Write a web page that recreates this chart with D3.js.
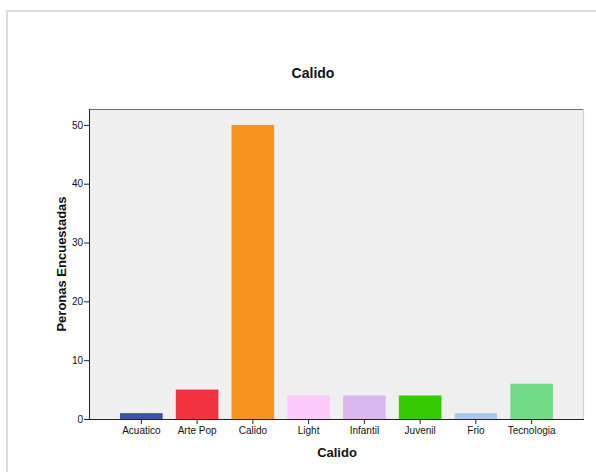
<!DOCTYPE html>
<html>
<head>
<meta charset="utf-8">
<script src="https://cdn.jsdelivr.net/npm/d3@7"></script>
<style>
  html, body { margin: 0; padding: 0; background: #fff; }
  svg { display: block; }
  text { font-family: "Liberation Sans", Arial, sans-serif; fill: #111; }
</style>
</head>
<body>
<svg id="chart" width="596" height="472"></svg>
<script>
// Survey counts per category
const categories = ["Acuatico", "Arte Pop", "Calido", "Light", "Infantil", "Juvenil", "Frio", "Tecnologia"];
const counts = [1, 5, 50, 4, 4, 4, 1, 6];
const barColors = ["#3a55a3", "#f0333f", "#f7941e", "#fdcbfb", "#dab8ef", "#33cc00", "#a9cbef", "#72dc86"];
const yTicks = [0, 10, 20, 30, 40, 50];
const chartTitle = "Calido";
const xTitle = "Calido";
const yTitle = "Peronas Encuestadas";

const svg = d3.select("#chart");

// outer panel frame
svg.append("path")
  .attr("d", "M7,472 V11 H596")
  .attr("fill", "none")
  .attr("stroke", "#dcdcdc")
  .attr("stroke-width", 2);

const plot = { left: 89, right: 584, top: 109, bottom: 419 };

const x = d3.scaleBand()
  .domain(categories)
  .range([plot.left, plot.right])
  .paddingInner(0.236)
  .paddingOuter(0.557);

const y = d3.scaleLinear()
  .domain([0, 52.7])
  .range([plot.bottom, plot.top]);

// plot background
svg.append("rect")
  .attr("x", plot.left)
  .attr("y", plot.top)
  .attr("width", plot.right - plot.left)
  .attr("height", plot.bottom - plot.top)
  .attr("fill", "#f0f0f0");

// top and right frame lines
svg.append("line")
  .attr("x1", plot.left).attr("x2", plot.right)
  .attr("y1", plot.top + 0.5).attr("y2", plot.top + 0.5)
  .attr("stroke", "#6e6e6e").attr("stroke-width", 1.2);
svg.append("line")
  .attr("x1", plot.right - 0.5).attr("x2", plot.right - 0.5)
  .attr("y1", plot.top).attr("y2", plot.bottom)
  .attr("stroke", "#d2d2d2").attr("stroke-width", 1.2);

// bars
svg.append("g")
  .selectAll("rect")
  .data(categories.map((c, i) => ({ c, v: counts[i], color: barColors[i] })))
  .join("rect")
  .attr("x", d => x(d.c))
  .attr("y", d => y(d.v))
  .attr("width", x.bandwidth())
  .attr("height", d => y(0) - y(d.v))
  .attr("fill", d => d.color);

// y axis
const yAxis = svg.append("g")
  .attr("transform", `translate(${plot.left},0)`)
  .call(d3.axisLeft(y).tickValues(yTicks).tickSize(5).tickSizeOuter(0));
yAxis.select(".domain").attr("stroke", "#222").attr("d", `M0.5,${plot.top}V${plot.bottom}`);
yAxis.selectAll(".tick line").attr("stroke", "#222");
yAxis.selectAll(".tick text")
  .attr("x", -6)
  .style("font-family", "'Liberation Sans', Arial, sans-serif")
  .style("font-size", "10px")
  .attr("fill", "#222");

// x axis
const xAxis = svg.append("g")
  .attr("transform", `translate(0,${plot.bottom})`)
  .call(d3.axisBottom(x).tickSize(5).tickSizeOuter(0));
xAxis.select(".domain").attr("stroke", "#222").attr("d", `M${plot.left},0.5H${plot.right}`);
xAxis.selectAll(".tick line").attr("stroke", "#222");
xAxis.selectAll(".tick text")
  .attr("y", 8)
  .style("font-family", "'Liberation Sans', Arial, sans-serif")
  .style("font-size", "10px")
  .attr("fill", "#222");

// titles
svg.append("text")
  .attr("x", 313)
  .attr("y", 78)
  .attr("text-anchor", "middle")
  .style("font-size", "14px")
  .style("font-weight", "bold")
  .text(chartTitle);

svg.append("text")
  .attr("x", 337)
  .attr("y", 457)
  .attr("text-anchor", "middle")
  .style("font-size", "13px")
  .style("font-weight", "bold")
  .text(xTitle);

svg.append("text")
  .attr("transform", "translate(66,264) rotate(-90)")
  .attr("text-anchor", "middle")
  .style("font-size", "13px")
  .style("font-weight", "bold")
  .text(yTitle);
</script>
</body>
</html>
